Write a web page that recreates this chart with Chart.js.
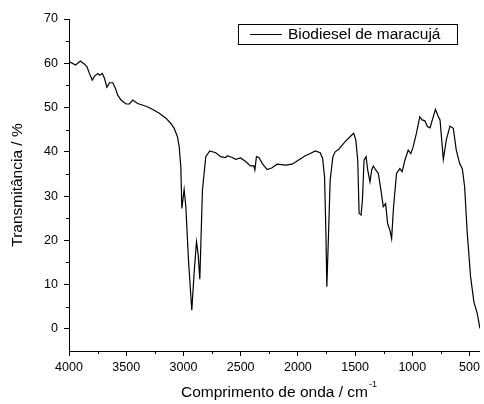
<!DOCTYPE html>
<html>
<head>
<meta charset="utf-8">
<script src="https://cdn.jsdelivr.net/npm/chart.js@4"></script>
<style>
  html, body { margin: 0; padding: 0; background: #fff; }
  #wrap { width: 484px; height: 404px; }
</style>
</head>
<body>
<div id="wrap"><canvas id="ftir" width="484" height="404"></canvas></div>
<script>
// FTIR spectrum
const seriesLabel = 'Biodiesel de maracujá';
const wavenumber = [4000, 3942, 3901, 3864, 3843, 3820, 3797, 3777, 3748, 3733,
  3710, 3690, 3669, 3646, 3617, 3594, 3574, 3545, 3501, 3472,
  3443, 3400, 3327, 3284, 3211, 3153, 3110, 3081, 3052, 3037,
  3023, 3014, 2994, 2979, 2956, 2927, 2907, 2886, 2872, 2857,
  2834, 2805, 2770, 2718, 2675, 2631, 2617, 2573, 2544, 2501,
  2457, 2414, 2385, 2376, 2362, 2341, 2312, 2269, 2225, 2182,
  2109, 2051, 1979, 1935, 1892, 1848, 1805, 1784, 1767, 1755,
  1747, 1732, 1718, 1694, 1674, 1645, 1587, 1529, 1512, 1494,
  1477, 1465, 1448, 1436, 1422, 1404, 1390, 1370, 1355, 1341,
  1320, 1297, 1274, 1254, 1233, 1216, 1196, 1181, 1164, 1138,
  1109, 1089, 1065, 1036, 1013, 993, 964, 935, 914, 891,
  868, 845, 825, 798, 775, 758, 729, 703, 671, 642,
  616, 587, 563, 543, 520, 491, 462, 433, 409];
const transmittance = [60.4, 59.6, 60.5, 59.8, 59.2, 57.6, 56.2, 57.1, 57.7, 57.3,
  57.7, 56.6, 54.6, 55.6, 55.6, 54.3, 52.8, 51.7, 50.8, 50.8,
  51.7, 50.9, 50.3, 49.8, 48.7, 47.6, 46.4, 45.3, 43.4, 41.1,
  36.6, 27.2, 31.5, 27.6, 15.5, 4.2, 12.5, 19.7, 17.0, 11.2,
  31.3, 38.9, 40.2, 39.8, 38.9, 38.7, 39.1, 38.7, 38.3, 38.6,
  37.8, 36.8, 36.8, 35.9, 38.9, 38.7, 37.4, 36.0, 36.4, 37.2,
  37.0, 37.2, 38.4, 39.1, 39.6, 40.2, 39.8, 38.5, 34.4, 21.6,
  9.5, 21.6, 33.6, 38.9, 40.0, 40.5, 42.3, 43.8, 44.2, 42.7,
  38.1, 26.1, 25.7, 29.1, 38.1, 38.9, 35.9, 33.2, 35.9, 36.8,
  35.9, 35.1, 31.3, 27.6, 28.3, 23.8, 22.3, 20.4, 27.6, 35.1,
  36.2, 35.5, 38.1, 40.4, 39.6, 41.1, 44.2, 47.9, 47.2, 47.0,
  45.7, 45.4, 47.2, 49.6, 48.1, 47.2, 38.3, 42.7, 45.8, 45.3,
  40.4, 37.4, 36.2, 32.1, 21.6, 11.8, 6.1, 3.5, 0.1];
const xTicks = [4000, 3500, 3000, 2500, 2000, 1500, 1000, 500];
const yTicks = [0, 10, 20, 30, 40, 50, 60, 70];
const xMinorTicks = [3750, 3250, 2750, 2250, 1750, 1250, 750];
const yMinorTicks = [5, 15, 25, 35, 45, 55, 65];

const FONT = '"Liberation Sans", Arial, sans-serif';

// minor ticks, superscript on the x title and the boxed legend
const extras = {
  id: 'extras',
  afterDraw(chart) {
    const ctx = chart.ctx;
    const xs = chart.scales.x, ys = chart.scales.y;
    const area = chart.chartArea;
    ctx.save();
    ctx.strokeStyle = '#000';
    ctx.lineWidth = 1;
    ctx.beginPath();
    xMinorTicks.forEach(v => {
      const px = Math.round(xs.getPixelForValue(v)) + 0.5;
      ctx.moveTo(px, area.bottom);
      ctx.lineTo(px, area.bottom + 3);
    });
    yMinorTicks.forEach(v => {
      const py = Math.round(ys.getPixelForValue(v)) + 0.5;
      ctx.moveTo(area.left - 3, py);
      ctx.lineTo(area.left, py);
    });
    ctx.stroke();

    // superscript -1 after the x title
    const t = xs.options.title;
    ctx.font = '15.5px ' + FONT;
    const w = ctx.measureText(t.text).width;
    const cx = (area.left + area.right) / 2;
    ctx.font = '9px ' + FONT;
    ctx.fillStyle = '#000';
    ctx.textBaseline = 'middle';
    ctx.textAlign = 'left';
    ctx.fillText('-1', cx + w / 2 + 1, 385);

    // legend box
    const bx = area.right - 242, by = area.top + 5, bw = 219, bh = 20;
    ctx.strokeRect(bx + 0.5, by + 0.5, bw, bh);
    ctx.beginPath();
    ctx.moveTo(bx + 12, by + 10.5);
    ctx.lineTo(bx + 44, by + 10.5);
    ctx.stroke();
    ctx.font = '15.5px ' + FONT;
    ctx.fillText(chart.data.datasets[0].label, bx + 50, by + 11);
    ctx.restore();
  }
};

const points = wavenumber.map((w, i) => ({ x: w, y: transmittance[i] }));

new Chart(document.getElementById('ftir'), {
  type: 'line',
  data: {
    datasets: [{
      label: seriesLabel,
      data: points,
      borderColor: '#000',
      borderWidth: 1.2,
      pointRadius: 0,
      tension: 0,
      fill: false
    }]
  },
  options: {
    responsive: false,
    animation: false,
    layout: { padding: { top: 19, right: 1, left: 0, bottom: 0 }, autoPadding: false },
    plugins: {
      legend: { display: false },
      tooltip: { enabled: false }
    },
    scales: {
      x: {
        type: 'linear',
        reverse: true,
        min: 409,
        max: 4000,
        afterFit: s => { s.height = 53; },
        afterBuildTicks: s => { s.ticks = xTicks.map(v => ({ value: v })); },
        grid: { drawOnChartArea: false, drawTicks: true, tickLength: 5, color: '#000' },
        border: { display: true, color: '#000', width: 1 },
        ticks: {
          color: '#000',
          font: { family: FONT, size: 12.5 },
          padding: 4,
          maxRotation: 0,
          callback: v => String(v)
        },
        title: {
          display: true,
          text: 'Comprimento de onda / cm',
          color: '#000',
          font: { family: FONT, size: 15.5 },
          padding: { top: 0, bottom: 2 }
        }
      },
      y: {
        min: -5,
        max: 70,
        afterFit: s => { s.width = 69; },
        afterBuildTicks: s => { s.ticks = yTicks.map(v => ({ value: v })); },
        grid: { drawOnChartArea: false, drawTicks: true, tickLength: 5, color: '#000' },
        border: { display: true, color: '#000', width: 1 },
        ticks: {
          color: '#000',
          font: { family: FONT, size: 12.5 },
          padding: 6,
          callback: v => String(v)
        },
        title: {
          display: true,
          text: 'Transmitância / %',
          color: '#000',
          font: { family: FONT, size: 15.5 },
          padding: { top: 8, bottom: 0 }
        }
      }
    }
  },
  plugins: [extras]
});
</script>
</body>
</html>
